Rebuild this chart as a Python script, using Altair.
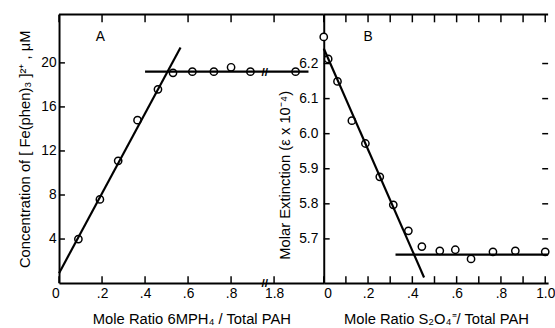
import altair as alt
import pandas as pd

FONT = "Liberation Sans"

# ---------------- Panel A data ----------------
a_x = [0.09, 0.19, 0.275, 0.365, 0.46, 0.53, 0.62, 0.72, 0.80, 0.89, 1.90]
a_y = [4.0, 7.6, 11.1, 14.8, 17.6, 19.1, 19.2, 19.2, 19.6, 19.2, 19.2]
a_fit_x = [0.0, 0.565]
a_fit_y = [0.9, 21.4]
a_plat_x = [0.40, 1.96]
a_plat_y = [19.2, 19.2]
a_xticks = [0, 0.2, 0.4, 0.6, 0.8, 1.8]
a_ylabels = [4, 8, 12, 16, 20]
a_yticks = [4, 8, 12, 16, 20]
A_BREAK_REAL = 1.8     # first value after the axis break
A_BREAK_POS = 1.0      # where that value sits on the axis
A_BREAK_MARK = 0.957   # where the // marks are drawn
A_XMAX = 1.231
A_YMAX = 24.4

# ---------------- Panel B data ----------------
b_x = [0.0, 0.02, 0.062, 0.127, 0.188, 0.253, 0.314, 0.382, 0.443, 0.524, 0.594, 0.665, 0.764, 0.865, 1.0]
b_y = [6.276, 6.213, 6.149, 6.037, 5.972, 5.877, 5.797, 5.723, 5.678, 5.666, 5.669, 5.643, 5.663, 5.666, 5.663]
b_fit_x = [0.0, 0.453]
b_fit_y = [6.243, 5.59]
b_plat_x = [0.324, 1.013]
b_plat_y = [5.655, 5.655]
b_xticks = [0.0, 0.1, 0.2, 0.3, 0.4, 0.5, 0.6, 0.7, 0.8, 0.9, 1.0]
b_xlabels = [0.0, 0.2, 0.4, 0.6, 0.8, 1.0]
b_yticks = [5.7, 5.8, 5.9, 6.0, 6.1, 6.2]
B_XMAX = 1.013
B_YMIN, B_YMAX = 5.574, 6.34

A_W, A_H = 269, 273
B_W, B_H = 228, 273


def a_pos(v):
    return v if v < A_BREAK_REAL else v - A_BREAK_REAL + A_BREAK_POS


def line_df(xs, ys, f=lambda v: v):
    return pd.DataFrame({"x": [f(v) for v in xs], "y": ys})


LW = 2.2
TICK_IN_Y = 7
TICK_IN_X = 6

# ---------------- Panel A ----------------
ax_scale = alt.Scale(domain=[0, A_XMAX], nice=False, zero=False)
ay_scale = alt.Scale(domain=[0, A_YMAX], nice=False, zero=False)

a_label_expr = (
    f"datum.value >= {A_BREAK_POS - 0.001} ? format(datum.value + {A_BREAK_REAL - A_BREAK_POS}, '.1f')"
    " : (datum.value == 0 ? '0' : replace(format(datum.value, '.1f'), '0.', '.'))"
)

a_pts = line_df(a_x, a_y, a_pos)

a_points = alt.Chart(a_pts).mark_point(
    shape="circle", filled=True, fill="white", stroke="black", strokeWidth=1.5, size=55, opacity=1
).encode(
    x=alt.X("x:Q", scale=ax_scale, axis=alt.Axis(
        orient="bottom",
        values=[a_pos(v) for v in a_xticks], labelExpr=a_label_expr,
        labelAlign={"condition": {"test": "datum.value == 0", "value": "right"}, "value": "center"},
        title="Mole Ratio 6MPH\u2084 / Total PAH", labelPadding=4, titlePadding=11)),
    y=alt.Y("y:Q", scale=ay_scale, axis=alt.Axis(
        orient="left",
        values=a_ylabels, format="d", labelPadding=3, titlePadding=8,
        title="Concentration of [ Fe(phen)\u2083 ]\u00b2\u207a , \u03bcM")),
)

a_fit = alt.Chart(line_df(a_fit_x, a_fit_y, a_pos)).mark_line(color="black", strokeWidth=LW).encode(x="x:Q", y="y:Q")
a_plat = alt.Chart(line_df(a_plat_x, a_plat_y, a_pos)).mark_line(color="black", strokeWidth=LW).encode(x="x:Q", y="y:Q")

a_bot = alt.Chart(pd.DataFrame({"x": [a_pos(v) for v in a_xticks]})).mark_rule(color="black", strokeWidth=1.5).encode(
    x="x:Q", y=alt.value(A_H), y2=alt.value(A_H - TICK_IN_Y))
a_top = alt.Chart(pd.DataFrame({"x": [a_pos(v) for v in a_xticks]})).mark_rule(color="black", strokeWidth=1.5).encode(
    x="x:Q", y=alt.value(0), y2=alt.value(TICK_IN_Y + 1))
a_frame = alt.Chart(pd.DataFrame({"x": [0.0], "x2": [A_XMAX]})).mark_rule(color="black", strokeWidth=2).encode(
    x="x:Q", x2="x2:Q", y=alt.value(0))
a_left = alt.Chart(pd.DataFrame({"y": a_yticks})).mark_rule(color="black", strokeWidth=1.5).encode(
    y="y:Q", x=alt.value(0), x2=alt.value(TICK_IN_X))

a_brk = alt.Chart(pd.DataFrame({"x": [A_BREAK_MARK, A_BREAK_MARK], "y": [0, a_plat_y[0]]})).mark_text(
    text="//", font=FONT, fontSize=12, fontWeight="bold", color="black", align="center", baseline="middle").encode(
    x="x:Q", y="y:Q")

a_lab = alt.Chart(pd.DataFrame({"t": ["A"]})).mark_text(
    font=FONT, fontSize=14, color="black", align="center", baseline="middle").encode(
    text="t:N", x=alt.value(42), y=alt.value(23))

panel_a = alt.layer(a_points, a_fit, a_plat, a_bot, a_top, a_frame, a_left, a_brk, a_lab).properties(width=A_W, height=A_H)

# ---------------- Panel B ----------------
bx_scale = alt.Scale(domain=[0, B_XMAX], nice=False, zero=False)
by_scale = alt.Scale(domain=[B_YMIN, B_YMAX], nice=False, zero=False)

b_label_expr = (
    "datum.value == 0 ? '0' : (datum.value >= 0.999 ? format(datum.value, '.1f')"
    " : replace(format(datum.value, '.1f'), '0.', '.'))"
)

b_points = alt.Chart(line_df(b_x, b_y)).mark_point(
    shape="circle", filled=True, fill="white", stroke="black", strokeWidth=1.5, size=55, opacity=1
).encode(
    x=alt.X("x:Q", scale=bx_scale, axis=alt.Axis(
        orient="bottom",
        values=b_xlabels, labelExpr=b_label_expr, labelPadding=4, titlePadding=11,
        title="Mole Ratio  S\u2082O\u2084\u207c/ Total PAH")),
    y=alt.Y("y:Q", scale=by_scale, axis=alt.Axis(
        orient="left",
        values=b_yticks, format=".1f", labelPadding=6, titlePadding=6, titleY=163,
        title="Molar Extinction (\u03b5 x 10\u207b\u2074)")),
)

b_fit = alt.Chart(line_df(b_fit_x, b_fit_y)).mark_line(color="black", strokeWidth=LW).encode(x="x:Q", y="y:Q")
b_plat = alt.Chart(line_df(b_plat_x, b_plat_y)).mark_line(color="black", strokeWidth=LW).encode(x="x:Q", y="y:Q")

b_bot = alt.Chart(pd.DataFrame({"x": b_xticks})).mark_rule(color="black", strokeWidth=1.5).encode(
    x="x:Q", y=alt.value(B_H), y2=alt.value(B_H - TICK_IN_Y))
b_top = alt.Chart(pd.DataFrame({"x": b_xticks})).mark_rule(color="black", strokeWidth=1.5).encode(
    x="x:Q", y=alt.value(0), y2=alt.value(TICK_IN_Y + 1))
b_frame = alt.Chart(pd.DataFrame({"x": [0.0], "x2": [B_XMAX]})).mark_rule(color="black", strokeWidth=2).encode(
    x="x:Q", x2="x2:Q", y=alt.value(0))
b_left = alt.Chart(pd.DataFrame({"y": b_yticks})).mark_rule(color="black", strokeWidth=1.5).encode(
    y="y:Q", x=alt.value(0), x2=alt.value(TICK_IN_X))
b_right = alt.Chart(pd.DataFrame({"y": b_yticks})).mark_rule(color="black", strokeWidth=1.5).encode(
    y="y:Q", x=alt.value(B_W - TICK_IN_X), x2=alt.value(B_W))

b_lab = alt.Chart(pd.DataFrame({"t": ["B"]})).mark_text(
    font=FONT, fontSize=14, color="black", align="center", baseline="middle").encode(
    text="t:N", x=alt.value(45), y=alt.value(23))

panel_b = alt.layer(b_points, b_fit, b_plat, b_bot, b_top, b_frame, b_left, b_right, b_lab).properties(width=B_W, height=B_H)

chart = alt.hconcat(panel_a, panel_b, spacing=0, bounds="flush").properties(
    padding={"left": 18, "top": 11, "right": 0, "bottom": 0}, background="white"
).configure_view(stroke=None).configure_axis(
    grid=False, ticks=False, domain=True, domainColor="black", domainWidth=2,
    labelFont=FONT, labelFontSize=14, labelColor="black",
    titleFont=FONT, titleFontSize=15, titleFontWeight="normal", titleColor="black",
)

chart.save("out.html", embed_options={"renderer": "svg", "actions": False})
